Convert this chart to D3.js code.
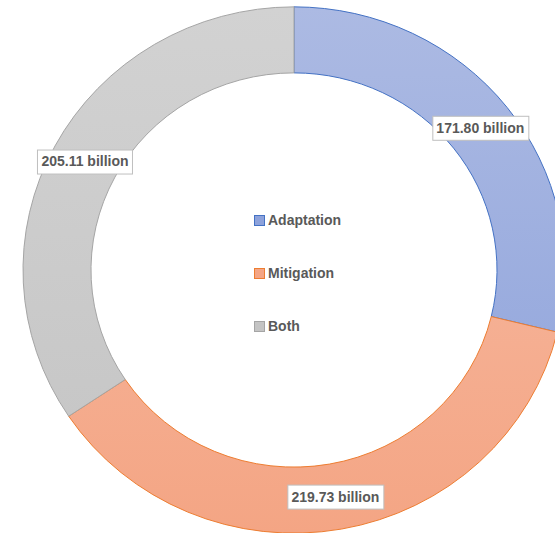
<!DOCTYPE html>
<html>
<head>
<meta charset="utf-8">
<script src="https://cdn.jsdelivr.net/npm/d3@7"></script>
<style>
  body { margin: 0; background: #fff; }
  svg { display: block; }
</style>
</head>
<body>
<div id="chart"></div>
<script>
// Climate finance donut: adaptation / mitigation / both
const categories = ['Adaptation', 'Mitigation', 'Both'];
const values = [171.80, 219.73, 205.11];
const labelText = ['171.80 billion', '219.73 billion', '205.11 billion'];

const fills = {
    Adaptation: ['#acbae3', '#8da2db'],
    Mitigation: ['#f7bea8', '#f4a584'],
    Both: ['#d2d2d2', '#c4c4c4']
};
const strokes = { Adaptation: '#4472c4', Mitigation: '#ed7d31', Both: '#a5a5a5' };

const width = 555, height = 533;
const cx = 294, cy = 270;
const outerR = 271, innerR = 203;
const squash = 0.971; // the original is drawn a little flatter than round

const svg = d3.select('#chart')
    .append('svg')
    .attr('width', width)
    .attr('height', height);

const defs = svg.append('defs');
categories.forEach(c => {
    const g = defs.append('linearGradient')
        .attr('id', 'grad-' + c)
        .attr('gradientUnits', 'userSpaceOnUse')
        .attr('x1', 0).attr('y1', -outerR)
        .attr('x2', 0).attr('y2', outerR);
    g.append('stop').attr('offset', '0%').attr('stop-color', fills[c][0]);
    g.append('stop').attr('offset', '100%').attr('stop-color', fills[c][1]);
});

const data = categories.map((c, i) => ({ name: c, value: values[i], label: labelText[i] }));

const pie = d3.pie()
    .value(d => d.value)
    .sort(null);

const arc = d3.arc()
    .innerRadius(innerR)
    .outerRadius(outerR);

const labelArc = d3.arc()
    .innerRadius((innerR + outerR) / 2)
    .outerRadius((innerR + outerR) / 2);

const arcs = pie(data);

svg.append('g')
    .attr('transform', `translate(${cx},${cy}) scale(1,${squash})`)
    .selectAll('path')
    .data(arcs)
    .join('path')
    .attr('d', arc)
    .attr('fill', d => `url(#grad-${d.data.name})`)
    .attr('stroke', d => strokes[d.data.name])
    .attr('stroke-width', 1)
    .attr('vector-effect', 'non-scaling-stroke');

// data labels in white boxes
const font = 'bold 14px "Liberation Sans", Arial, sans-serif';
const labels = svg.append('g')
    .selectAll('g')
    .data(arcs)
    .join('g')
    .attr('transform', d => {
        const [x, y] = labelArc.centroid(d);
        return `translate(${cx + x},${cy + y * squash})`;
    });

labels.append('rect')
    .attr('fill', '#fff')
    .attr('stroke', '#bfbfbf')
    .attr('stroke-width', 1);

labels.append('text')
    .attr('text-anchor', 'middle')
    .attr('dy', '0.35em')
    .style('font', font)
    .attr('fill', '#595959')
    .text(d => d.data.label);

labels.each(function () {
    const t = d3.select(this).select('text').node().getBBox();
    d3.select(this).select('rect')
        .attr('x', Math.round(t.x - 4) + 0.5)
        .attr('y', Math.round(t.y - 4) + 0.5)
        .attr('width', Math.round(t.width + 8))
        .attr('height', Math.round(t.height + 8));
});

// legend in the hole
const legendY = d3.scalePoint()
    .domain(categories)
    .range([220, 326]);

const legend = svg.append('g')
    .selectAll('g')
    .data(categories)
    .join('g')
    .attr('transform', d => `translate(254,${legendY(d)})`);

legend.append('rect')
    .attr('x', 0.5).attr('y', -4.5)
    .attr('width', 10).attr('height', 10)
    .attr('fill', d => fills[d][1])
    .attr('stroke', d => strokes[d]);

legend.append('text')
    .attr('x', 14)
    .attr('dy', '0.38em')
    .style('font', font)
    .attr('fill', '#595959')
    .text(d => d);
</script>
</body>
</html>
